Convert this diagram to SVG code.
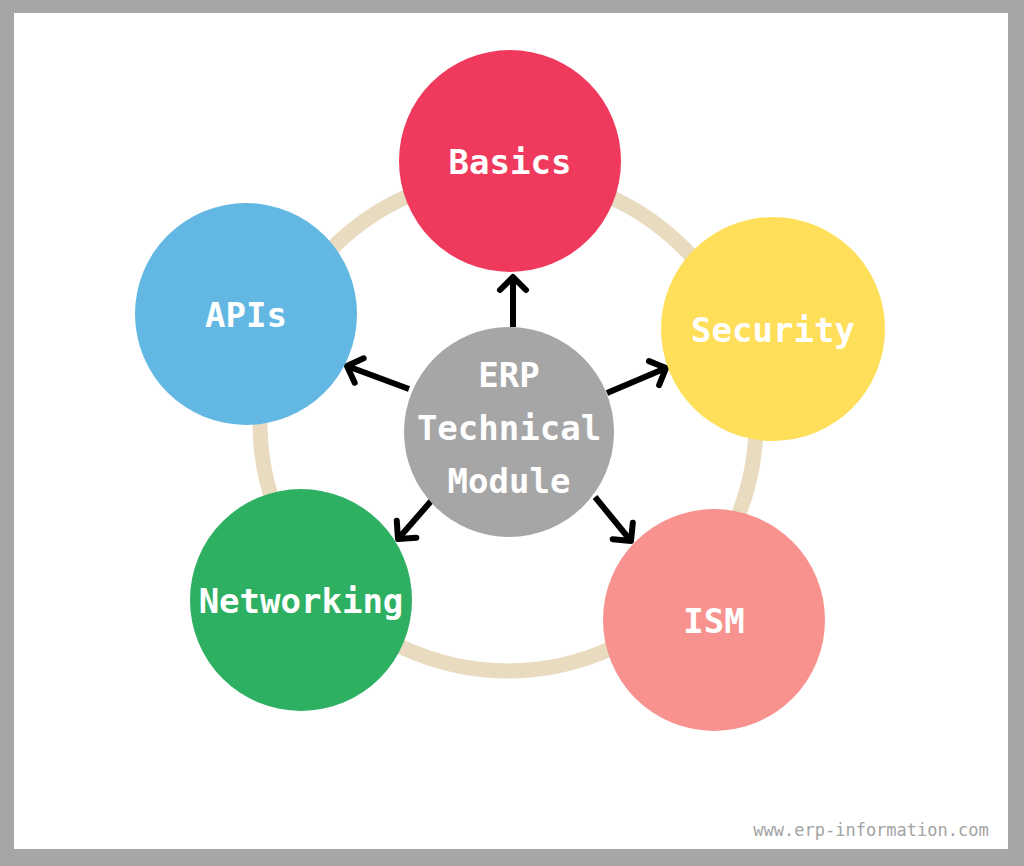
<svg xmlns="http://www.w3.org/2000/svg" width="1024" height="866" viewBox="0 0 1024 866">
<style>
.lbl{font-family:"DejaVu Sans Mono","Liberation Mono",monospace;font-weight:bold;font-size:34px;fill:#ffffff;text-anchor:middle}
.arr{stroke:#000;stroke-width:6;fill:none;stroke-linecap:butt}
.wm{font-family:"DejaVu Sans Mono","Liberation Mono",monospace;font-size:17px;fill:#a3a3a3;text-anchor:middle}
</style>
<defs>
<marker id="ah" markerUnits="userSpaceOnUse" viewBox="-20 -20 30 40" markerWidth="30" markerHeight="40" refX="0" refY="0" orient="auto" overflow="visible">
<path d="M -13 -13 L 0 0 L -13 13" fill="none" stroke="#000" stroke-width="6" stroke-linecap="round" stroke-linejoin="round"/>
</marker>
</defs>
<rect x="0" y="0" width="1024" height="866" fill="#a6a6a6"/>
<rect x="14" y="13" width="994" height="836" fill="#ffffff"/>
<circle id="ring" cx="508" cy="423" r="248" fill="none" stroke="#e8dbbf" stroke-width="15"/>
<g id="connectors">
<line class="arr" x1="513" y1="327" x2="513" y2="277" marker-end="url(#ah)"/>
<line class="arr" x1="409" y1="389" x2="347" y2="366" marker-end="url(#ah)"/>
<line class="arr" x1="607" y1="393" x2="666" y2="368" marker-end="url(#ah)"/>
<line class="arr" x1="432" y1="500" x2="398" y2="539" marker-end="url(#ah)"/>
<line class="arr" x1="595" y1="497" x2="631" y2="541" marker-end="url(#ah)"/>
</g>
<g id="basics">
<circle cx="510" cy="161" r="111" fill="#ef3a5d"/>
<text class="lbl" x="510" y="174">Basics</text>
</g>
<g id="security">
<circle cx="773" cy="329" r="112" fill="#ffde59"/>
<text class="lbl" x="773" y="342">Security</text>
</g>
<g id="apis">
<circle cx="246" cy="314" r="111" fill="#63b8e3"/>
<text class="lbl" x="246" y="327">APIs</text>
</g>
<g id="networking">
<circle cx="301" cy="600" r="111" fill="#2eb062"/>
<text class="lbl" x="301" y="613">Networking</text>
</g>
<g id="ism">
<circle cx="714" cy="620" r="111" fill="#f8928e"/>
<text class="lbl" x="714" y="633">ISM</text>
</g>
<g id="center">
<circle cx="509" cy="432" r="105" fill="#a6a6a6"/>
<text class="lbl" x="509" y="387">ERP</text>
<text class="lbl" x="509" y="440">Technical</text>
<text class="lbl" x="509" y="493">Module</text>
</g>
<text class="wm" x="871" y="836">www.erp-information.com</text>
</svg>
